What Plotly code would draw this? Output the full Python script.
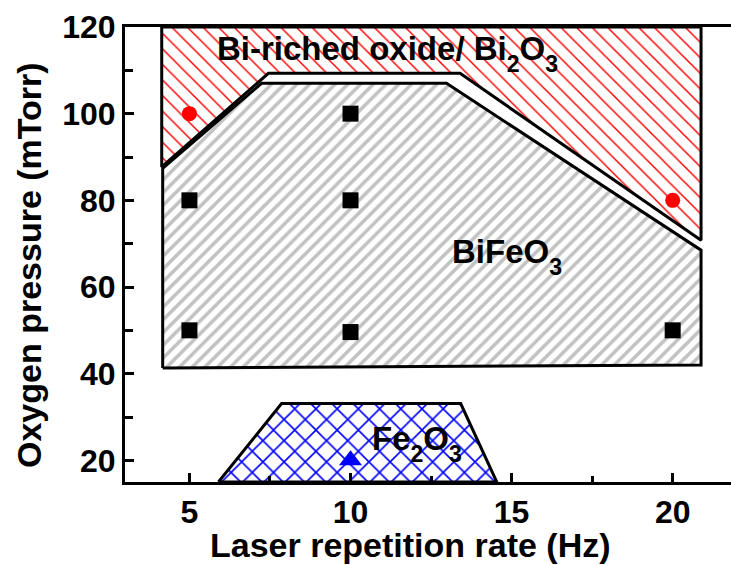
import plotly.graph_objects as go

# Phase regions in the (repetition rate, oxygen pressure) plane
bi_oxide_rate = [4.14, 4.14, 7.45, 13.40, 20.88, 20.88, 4.14]
bi_oxide_pressure = [120, 87.7, 109.3, 109.3, 70.8, 120, 120]

bfo_rate = [4.17, 4.17, 7.24, 12.98, 20.88, 20.88, 4.17]
bfo_pressure = [41.3, 87.4, 107.0, 107.0, 68.5, 42.0, 41.3]

fe2o3_rate = [5.90, 7.86, 13.42, 14.54, 5.90]
fe2o3_pressure = [15, 33.1, 33.1, 15, 15]

# Deposition conditions that were tried
bfo_pts_rate = [5, 5, 10, 10, 10, 20]
bfo_pts_pressure = [80, 50, 100, 80, 49.6, 50]

bi_pts_rate = [5, 20]
bi_pts_pressure = [100, 80]

fe_pts_rate = [10]
fe_pts_pressure = [20]

x_ticks = [5, 10, 15, 20]
y_ticks = [20, 40, 60, 80, 100, 120]

FONT = "Liberation Sans, Arial, sans-serif"


def sub(s):
    # subscript sitting a little lower than the default <sub>
    return "<sub><span style='baseline-shift:-0.22em'>" + s + "</span></sub>"


fig = go.Figure()

fig.add_trace(go.Scatter(
    x=bi_oxide_rate, y=bi_oxide_pressure, mode="lines", fill="toself",
    fillcolor="white",
    fillpattern=dict(shape="\\", fgcolor="#ff0000", bgcolor="white",
                     size=11, solidity=0.13, fillmode="replace"),
    line=dict(color="black", width=3), hoverinfo="skip", showlegend=False))

fig.add_trace(go.Scatter(
    x=bfo_rate, y=bfo_pressure, mode="lines", fill="toself",
    fillcolor="white",
    fillpattern=dict(shape="/", fgcolor="#c2c2c2", bgcolor="white",
                     size=9, solidity=0.4, fillmode="replace"),
    line=dict(color="black", width=3), hoverinfo="skip", showlegend=False))

fig.add_trace(go.Scatter(
    x=fe2o3_rate, y=fe2o3_pressure, mode="lines", fill="toself",
    fillcolor="white",
    fillpattern=dict(shape="x", fgcolor="#0000ff", bgcolor="white",
                     size=15, solidity=0.2, fillmode="replace"),
    line=dict(color="black", width=3), hoverinfo="skip", showlegend=False))

fig.add_trace(go.Scatter(
    x=bfo_pts_rate, y=bfo_pts_pressure, mode="markers",
    marker=dict(symbol="square", size=16, color="black"), showlegend=False))

fig.add_trace(go.Scatter(
    x=bi_pts_rate, y=bi_pts_pressure, mode="markers",
    marker=dict(symbol="circle", size=15, color="#ff0000"), showlegend=False))

fig.add_trace(go.Scatter(
    x=fe_pts_rate, y=fe_pts_pressure, mode="markers",
    marker=dict(symbol="triangle-up", size=20, color="#0000ff"), showlegend=False))

label_font = dict(family=FONT, size=33, color="black", weight="bold")

fig.add_annotation(x=5.79, y=114, xref="x", yref="y",
                   text="Bi-riched oxide/ Bi" + sub("2") + "O" + sub("3"),
                   showarrow=False, xanchor="left", yanchor="middle",
                   font=label_font)
fig.add_annotation(x=13.08, y=67, xref="x", yref="y",
                   text="BiFeO" + sub("3"),
                   showarrow=False, xanchor="left", yanchor="middle",
                   font=label_font)
fig.add_annotation(x=10.6, y=24, xref="x", yref="y",
                   text="Fe" + sub("2") + "O" + sub("3"),
                   showarrow=False, xanchor="left", yanchor="middle",
                   font=label_font)

title_font = dict(family=FONT, size=34, color="black", weight="bold")
fig.add_annotation(x=410, y=545, xref="paper", yref="paper",
                   text="Laser repetition rate (Hz)", showarrow=False,
                   xanchor="center", yanchor="middle", font=title_font)
fig.add_annotation(x=29, y=265, xref="paper", yref="paper",
                   text="Oxygen pressure (mTorr)", showarrow=False, textangle=-90,
                   xanchor="center", yanchor="middle", font=title_font)

W, H = 731, 565
ML, MR, MT, MB = 125, 0, 27, 83
pw, ph = W - ML - MR, H - MT - MB

# Convert the pixel-placed axis titles to paper coordinates
for ann in fig.layout.annotations[3:]:
    ann.x = (ann.x - ML) / pw
    ann.y = (H - MB - ann.y) / ph

tick_font = dict(family=FONT, size=32, color="black", weight="bold")

fig.update_layout(
    width=W, height=H,
    margin=dict(l=ML, r=MR, t=MT, b=MB, pad=0),
    plot_bgcolor="white", paper_bgcolor="white",
    xaxis=dict(range=[3, 21.81], tickvals=x_ticks, ticks="inside", ticklen=9,
               tickwidth=2.5, tickcolor="black", showline=True, linewidth=3,
               linecolor="black", mirror=True, showgrid=False, zeroline=False,
               tickfont=tick_font,
               minor=dict(tickvals=[7.5, 12.5, 17.5], ticks="inside", ticklen=6,
                          tickwidth=2.5, tickcolor="black", showgrid=False)),
    yaxis=dict(range=[15, 120], tickvals=y_ticks, ticks="inside", ticklen=9,
               tickwidth=2.5, tickcolor="black", showline=True, linewidth=3,
               linecolor="black", mirror=False, showgrid=False, zeroline=False,
               tickfont=tick_font,
               minor=dict(tickvals=[30, 50, 70, 90, 110], ticks="inside", ticklen=8,
                          tickwidth=2.5, tickcolor="black", showgrid=False)),
)

fig.write_html("out.html")
